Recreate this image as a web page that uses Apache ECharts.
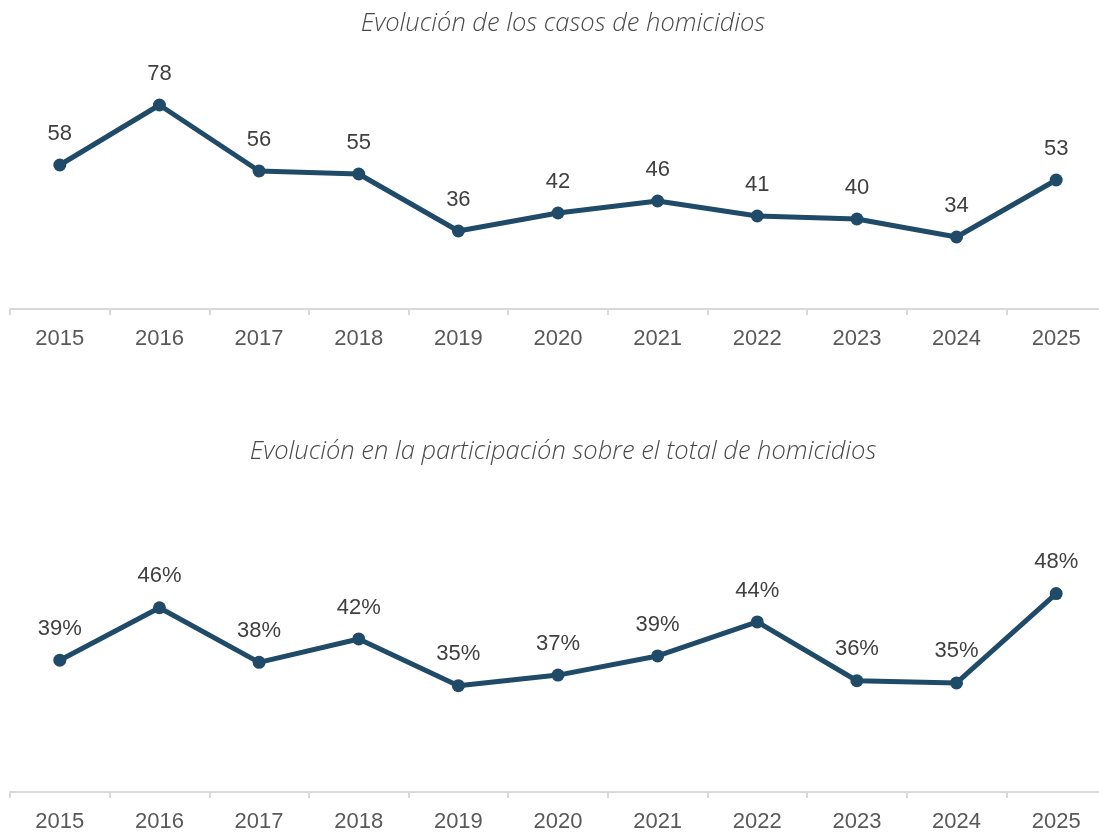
<!DOCTYPE html>
<html>
<head>
<meta charset="utf-8">
<script src="https://cdn.jsdelivr.net/npm/echarts@6/dist/echarts.min.js"></script>
<style>
html,body{margin:0;padding:0;background:#fff;overflow:hidden;width:1099px;height:836px;}
#chart{width:1106px;height:836px;}
</style>
</head>
<body>
<div id="chart"></div>
<script>
const years = ['2015','2016','2017','2018','2019','2020','2021','2022','2023','2024','2025'];
const casos = [58, 78, 56, 55, 36, 42, 46, 41, 40, 34, 53];
const participacion = [38.6, 46.0, 38.3, 41.6, 35.0, 36.5, 39.2, 44.0, 35.7, 35.4, 48.0];
const titleTop = 'Evolución de los casos de homicidios';
const titleBottom = 'Evolución en la participación sobre el total de homicidios';

const lineColor = '#1f4b68';
const axisColor = '#d9d9d9';
const fontMain = '"Liberation Sans", Arial, sans-serif';
const titleStyle = { fontFamily: '"Open Sans", sans-serif', fontWeight: 300, fontStyle: 'italic', fontSize: 25.5, color: '#4a4a4a' };

function xAxisCfg(gridIndex) {
  return {
    type: 'category', gridIndex, data: years, boundaryGap: true,
    axisLine: { show: true, lineStyle: { color: axisColor, width: 2 } },
    axisTick: { show: true, length: 6, lineStyle: { color: axisColor, width: 2 } },
    axisLabel: { fontSize: 22, color: '#595959', margin: 19, fontFamily: fontMain },
    splitLine: { show: false }
  };
}
function seriesCfg(idx, data, fmt) {
  return {
    type: 'line', xAxisIndex: idx, yAxisIndex: idx, data,
    symbol: 'circle', symbolSize: 13,
    lineStyle: { color: lineColor, width: 5 },
    itemStyle: { color: lineColor },
    label: { show: true, position: 'top', distance: 14, fontSize: 22, color: '#404040',
             fontFamily: fontMain, formatter: fmt },
    animation: false
  };
}

const chart = echarts.init(document.getElementById('chart'), null, { renderer: 'canvas' });
chart.setOption({
  backgroundColor: '#ffffff',
  animation: false,
  title: [
    { text: titleTop, left: 558, top: 6, textAlign: 'center', textStyle: titleStyle },
    { text: titleBottom, left: 558, top: 434, textAlign: 'center', textStyle: titleStyle }
  ],
  grid: [
    { left: 10, right: 0, top: 69, height: 240 },
    { left: 10, right: 0, top: 544, height: 248 }
  ],
  xAxis: [xAxisCfg(0), xAxisCfg(1)],
  yAxis: [
    { type: 'value', gridIndex: 0, min: 10, max: 90, show: false, splitLine: { show: false } },
    { type: 'value', gridIndex: 1, min: 20, max: 55, show: false, splitLine: { show: false } }
  ],
  series: [
    seriesCfg(0, casos, p => String(p.value)),
    seriesCfg(1, participacion, p => Math.round(p.value) + '%')
  ]
});
</script>
</body>
</html>
